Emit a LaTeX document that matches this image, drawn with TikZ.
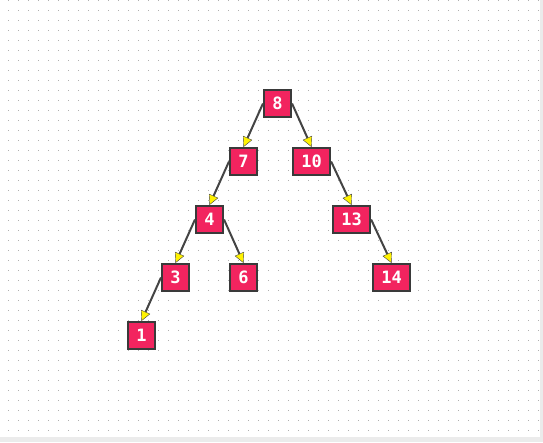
\documentclass[tikz,border=0pt]{standalone}
\usepackage{fontspec}
\usepackage{tikz}
\usetikzlibrary{arrows.meta}
\usepackage{xcolor}

\newfontfamily\keyfont{DejaVu Sans Mono Bold}
\definecolor{keyred}{HTML}{F2245F}
\definecolor{keyline}{HTML}{3A3A3A}
\definecolor{edgegray}{HTML}{444444}
\definecolor{dotgray}{HTML}{B0B0B0}
\definecolor{margingray}{HTML}{EBEBEB}

\tikzset{
  key/.style={draw=keyline, line width=2pt, fill=keyred, text=white,
    font=\keyfont\fontsize{17}{20}\selectfont, inner xsep=8.4pt, inner ysep=0pt,
    minimum height=27pt, minimum width=27pt, text height=12.4pt, text depth=0pt},
  link/.style={edgegray, line width=2pt,
    -{Triangle[length=10pt, width=10pt, fill=yellow, line width=0.4pt]}}
}

\begin{document}
\begin{tikzpicture} [x=1pt, y=-1pt]
					\useasboundingbox (0, 0) rectangle (543, 442);
					\fill [margingray] (0, 0) rectangle (543, 442);
					\fill [white] (0, 0) rectangle (540, 437);

					% dotted grid
					\foreach \x in {8, 18, ..., 538}
						\foreach \y in {0, 10, ..., 430}
							\fill [dotgray] (\x, \y) rectangle +(1, 1);

					\node [key] (k8) at (277.5, 103.5) {8};
					\node [key] (k7) at (243.5, 161.5) {7};
					\node [key] (k10) at (311.5, 161.5) {10};
					\node [key] (k4) at (209.5, 219.5) {4};
					\node [key] (k13) at (351.5, 219.5) {13};
					\node [key] (k3) at (175.5, 277.5) {3};
					\node [key] (k6) at (243.5, 277.5) {6};
					\node [key] (k14) at (391.5, 277.5) {14};
					\node [key] (k1) at (141.5, 335.5) {1};

					\draw [link] (k8.west)--(k7.north);
					\draw [link] (k8.east)--(k10.north);
					\draw [link] (k7.west)--(k4.north);
					\draw [link] (k10.east)--(k13.north);
					\draw [link] (k4.west)--(k3.north);
					\draw [link] (k4.east)--(k6.north);
					\draw [link] (k13.east)--(k14.north);
					\draw [link] (k3.west)--(k1.north);
				\end{tikzpicture}
\end{document}
